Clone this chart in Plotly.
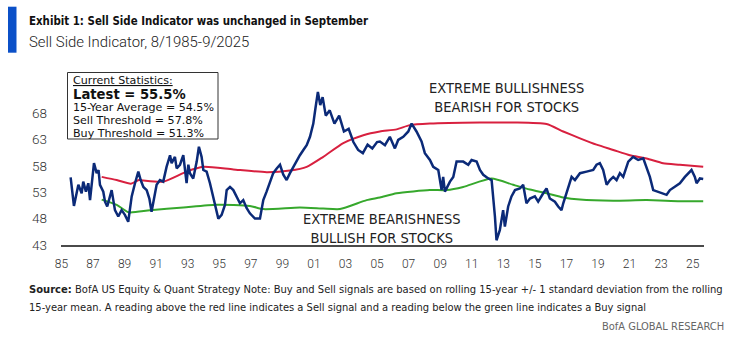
import plotly.graph_objects as go

# ---------------- data ----------------
ssi_t = [1985.58, 1985.79, 1986.07, 1986.28, 1986.38, 1986.55, 1986.70, 1986.81, 1987.06, 1987.23,
         1987.35, 1987.44, 1987.65, 1987.76, 1987.90, 1988.03, 1988.18, 1988.39, 1988.60, 1988.81,
         1989.02, 1989.23, 1989.45, 1989.66, 1989.87, 1990.02, 1990.19, 1990.40, 1990.57, 1990.71,
         1990.92, 1991.03, 1991.24, 1991.45, 1991.66, 1991.88, 1991.98, 1992.19, 1992.30, 1992.51,
         1992.72, 1992.83, 1992.93, 1993.04, 1993.14, 1993.35, 1993.57, 1993.71, 1993.88, 1993.99,
         1994.20, 1994.41, 1994.62, 1994.83, 1994.94, 1995.15, 1995.36, 1995.47, 1995.68, 1995.89,
         1996.10, 1996.31, 1996.52, 1996.73, 1996.94, 1997.26, 1997.58, 1997.79, 1998.00, 1998.21,
         1998.42, 1998.64, 1998.85, 1999.06, 1999.27, 1999.48, 1999.69, 1999.90, 2000.11, 2000.33,
         2000.54, 2000.75, 2000.96, 2001.10, 2001.25, 2001.40, 2001.55, 2001.75, 2002.00, 2002.30,
         2002.60, 2002.90, 2003.20, 2003.50, 2003.80, 2004.10, 2004.40, 2004.70, 2005.00,
         2005.18, 2005.50, 2005.81, 2006.13, 2006.34, 2006.66, 2006.98, 2007.19, 2007.50, 2007.82,
         2008.03, 2008.35, 2008.56, 2008.88, 2009.09, 2009.19, 2009.30, 2009.62, 2009.83, 2010.04,
         2010.46, 2010.78, 2010.99, 2011.31, 2011.52, 2011.73, 2012.05, 2012.26, 2012.47, 2012.57,
         2012.78, 2012.99, 2013.10, 2013.31, 2013.52, 2013.74, 2014.05, 2014.26, 2014.47, 2014.69,
         2015.00, 2015.21, 2015.53, 2015.74, 2015.95, 2016.27, 2016.48, 2016.69, 2016.80, 2017.01,
         2017.33, 2017.54, 2017.86, 2018.28, 2018.70, 2018.91, 2019.12, 2019.33, 2019.55, 2019.76,
         2019.97, 2020.18, 2020.39, 2020.60, 2020.92, 2021.23, 2021.55, 2021.87, 2022.08, 2022.29,
         2022.50, 2022.82, 2023.13, 2023.35, 2023.56, 2023.87, 2024.19, 2024.51, 2024.93, 2025.14,
         2025.25, 2025.46, 2025.67]
ssi_v = [55.8, 50.4, 54.4, 52.8, 55.0, 53.1, 54.7, 51.5, 58.5, 56.6,
         57.2, 54.4, 53.1, 51.2, 50.3, 51.8, 53.4, 49.6, 48.4, 49.6,
         48.7, 47.4, 52.2, 54.7, 56.9, 55.3, 54.0, 53.4, 51.8, 49.3,
         52.5, 54.4, 55.3, 55.0, 57.8, 60.0, 58.5, 59.7, 57.5, 58.2,
         60.0, 57.5, 54.7, 58.2, 56.6, 55.6, 58.8, 61.6, 59.7, 57.2,
         56.9, 54.7, 52.2, 49.6, 48.0, 48.7, 50.6, 53.4, 54.0, 53.4,
         52.2, 50.9, 51.5, 50.0, 49.0, 48.0, 48.0, 51.5, 53.1, 55.0,
         56.6, 57.5, 58.2, 56.3, 55.3, 56.6, 57.8, 59.1, 60.0, 61.0,
         61.9, 63.5, 66.0, 69.0, 72.0, 69.5, 71.0, 67.5, 68.5, 66.0,
         67.5, 64.5, 65.0, 62.5, 61.0, 60.4, 62.0, 61.3, 62.5,
         62.6, 61.9, 63.5, 61.3, 62.9, 63.5, 64.5, 66.0, 64.5, 62.6,
         60.4, 59.1, 57.8, 57.2, 53.4, 55.9, 53.1, 55.0, 55.9, 58.8,
         58.8, 58.2, 59.1, 58.8, 57.2, 56.3, 55.6, 55.3, 48.4, 43.9,
         45.8, 49.6, 46.5, 50.3, 52.2, 53.4, 53.7, 54.4, 50.9, 51.8,
         52.2, 51.2, 52.8, 53.7, 51.8, 51.2, 50.3, 49.6, 50.9, 52.8,
         55.9, 55.3, 56.6, 56.9, 57.2, 58.2, 58.5, 57.2, 54.4, 55.3,
         55.9, 55.3, 56.6, 55.9, 58.8, 59.7, 59.1, 59.4, 57.8, 55.9,
         53.4, 53.1, 52.8, 52.5, 53.4, 54.0, 54.7, 55.9, 57.2, 55.9,
         54.7, 55.6, 55.5]

sell_t = [1987.55, 1988.50, 1989.40, 1989.90, 1990.19, 1991.45, 1992.93, 1993.99, 1995.89, 1998.00,
          1999.48, 2000.54, 2001.59, 2002.86, 2004.13, 2005.18, 2006.24, 2007.08, 2008.35, 2011.52,
          2013.63, 2015.74, 2016.80, 2017.86, 2018.91, 2019.97, 2021.02, 2022.08, 2023.13, 2024.19,
          2025.67]
sell_v = [55.9, 55.3, 54.6, 55.3, 55.2, 55.0, 56.9, 57.8, 57.3, 56.8,
          57.1, 57.8, 59.7, 62.3, 63.8, 64.5, 64.9, 65.7, 66.0, 66.2,
          66.2, 65.9, 64.5, 63.2, 62.0, 61.0, 60.0, 59.4, 58.5, 58.2,
          57.8]

buy_t = [1987.55, 1988.50, 1989.25, 1990.61, 1992.72, 1994.83, 1996.94, 1997.79, 2000.11, 2001.59,
         2002.65, 2004.34, 2005.18, 2006.24, 2008.35, 2009.41, 2010.46, 2012.26, 2013.63, 2014.69,
         2015.74, 2016.80, 2017.86, 2019.97, 2022.08, 2024.19, 2025.67]
buy_v = [51.6, 50.6, 49.2, 49.6, 50.1, 50.6, 50.4, 49.8, 50.1, 49.9,
         49.8, 51.5, 52.0, 52.8, 53.4, 53.4, 54.0, 55.6, 54.4, 53.5,
         52.8, 52.0, 51.6, 51.4, 51.5, 51.3, 51.3]

y_ticks = [43, 48, 53, 58, 63, 68]
x_tick_years = list(range(1985, 2026, 2))
x_tick_text = [f"{y % 100:02d}" for y in x_tick_years]

stats_lines = ["<u>Current Statistics:</u>", "<b>Latest = 55.5%</b>", "15-Year Average = 54.5%",
               "Sell Threshold = 57.8%", "Buy Threshold = 51.3%"]

# ---------------- figure ----------------
W, H = 738, 340
L, R, T, B = 61, 34, 70, 95
PW, PH = W - L - R, H - T - B

def px(x):
    return (x - L) / PW

def py(y):
    return (H - B - y) / PH

NAVY = "#0b2a78"
RED = "#d8203f"
GREEN = "#36a82c"
NARROW = "Liberation Sans Narrow, DejaVu Sans Condensed, Roboto, sans-serif"

fig = go.Figure()
fig.add_trace(go.Scatter(x=sell_t, y=sell_v, mode="lines", line=dict(color=RED, width=2, shape="spline", smoothing=0.6),
                         hoverinfo="skip", showlegend=False))
fig.add_trace(go.Scatter(x=buy_t, y=buy_v, mode="lines", line=dict(color=GREEN, width=2, shape="spline", smoothing=0.6),
                         hoverinfo="skip", showlegend=False))
fig.add_trace(go.Scatter(x=ssi_t, y=ssi_v, mode="lines", line=dict(color=NAVY, width=2.5),
                         hoverinfo="skip", showlegend=False))

fig.update_layout(
    width=W, height=H,
    margin=dict(l=L, r=R, t=T, b=B, pad=0),
    paper_bgcolor="white", plot_bgcolor="white",
    xaxis=dict(range=[1984.97, 2025.72], tickvals=x_tick_years, ticktext=x_tick_text,
               showgrid=False, zeroline=False, showline=True, linecolor="#4a4a4a", linewidth=1.5,
               ticks="", ticklabelstandoff=7,
               tickfont=dict(family="Roboto", size=12, color="#333333", weight=300)),
    yaxis=dict(range=[43, 43 + PH / 5.28], tickvals=y_ticks, showgrid=False, zeroline=False,
               showline=False, ticks="", ticklabelstandoff=13,
               tickfont=dict(family="Roboto", size=13.5, color="#333333", weight=300)),
)

shapes = [
    dict(type="rect", xref="paper", yref="paper", x0=px(8), x1=px(16.5), y0=py(52.7), y1=py(6.7),
         fillcolor="#0b50c8", line=dict(width=0)),
    dict(type="rect", xref="paper", yref="paper", x0=px(67.5), x1=px(218), y0=py(139), y1=py(72.5),
         fillcolor="white", line=dict(color="#333333", width=1), layer="above"),
]
fig.update_layout(shapes=shapes)

ann = []
ann.append(dict(text="<b>Exhibit 1: Sell Side Indicator was unchanged in September</b>", x=px(27), y=py(21),
                xanchor="left", yanchor="middle", font=dict(family=NARROW, size=11.4, color="#111111")))
ann.append(dict(text="Sell Side Indicator, 8/1985-9/2025", x=px(27), y=py(42),
                xanchor="left", yanchor="middle", font=dict(family="Roboto", size=14.9, color="#222222", weight=300)))
stat_y = [80, 94.5, 107.5, 120.5, 133]
for i, (s, yy) in enumerate(zip(stats_lines, stat_y)):
    ann.append(dict(text=s, x=px(70.5), y=py(yy), xanchor="left", yanchor="middle",
                    font=dict(family="DejaVu Sans", size=13.2 if i == 1 else 11.1, color="#111111")))
ann.append(dict(text="EXTREME BULLISHNESS<br>BEARISH FOR STOCKS", x=px(506), y=py(97), xanchor="center",
                yanchor="middle", font=dict(family=NARROW, size=14.5, color="#222222")))
ann.append(dict(text="EXTREME BEARISHNESS<br>BULLISH FOR STOCKS", x=px(382), y=py(228), xanchor="center",
                yanchor="middle", font=dict(family=NARROW, size=14.5, color="#222222")))
ann.append(dict(text="<b>Source:</b> BofA US Equity & Quant Strategy Note: Buy and Sell signals are based on rolling 15-year +/- 1 standard deviation from the rolling",
                x=px(27), y=py(289), xanchor="left", yanchor="middle", font=dict(family=NARROW, size=11.1, color="#222222")))
ann.append(dict(text="15-year mean. A reading above the red line indicates a Sell signal and a reading below the green line indicates a Buy signal",
                x=px(27), y=py(307), xanchor="left", yanchor="middle", font=dict(family=NARROW, size=11.05, color="#222222")))
ann.append(dict(text="BofA GLOBAL RESEARCH", x=px(726), y=py(326), xanchor="right", yanchor="middle",
                font=dict(family=NARROW, size=11, color="#666666")))
for a in ann:
    a.update(xref="paper", yref="paper", showarrow=False)
fig.update_layout(annotations=ann)

fig.write_html("out.html")
